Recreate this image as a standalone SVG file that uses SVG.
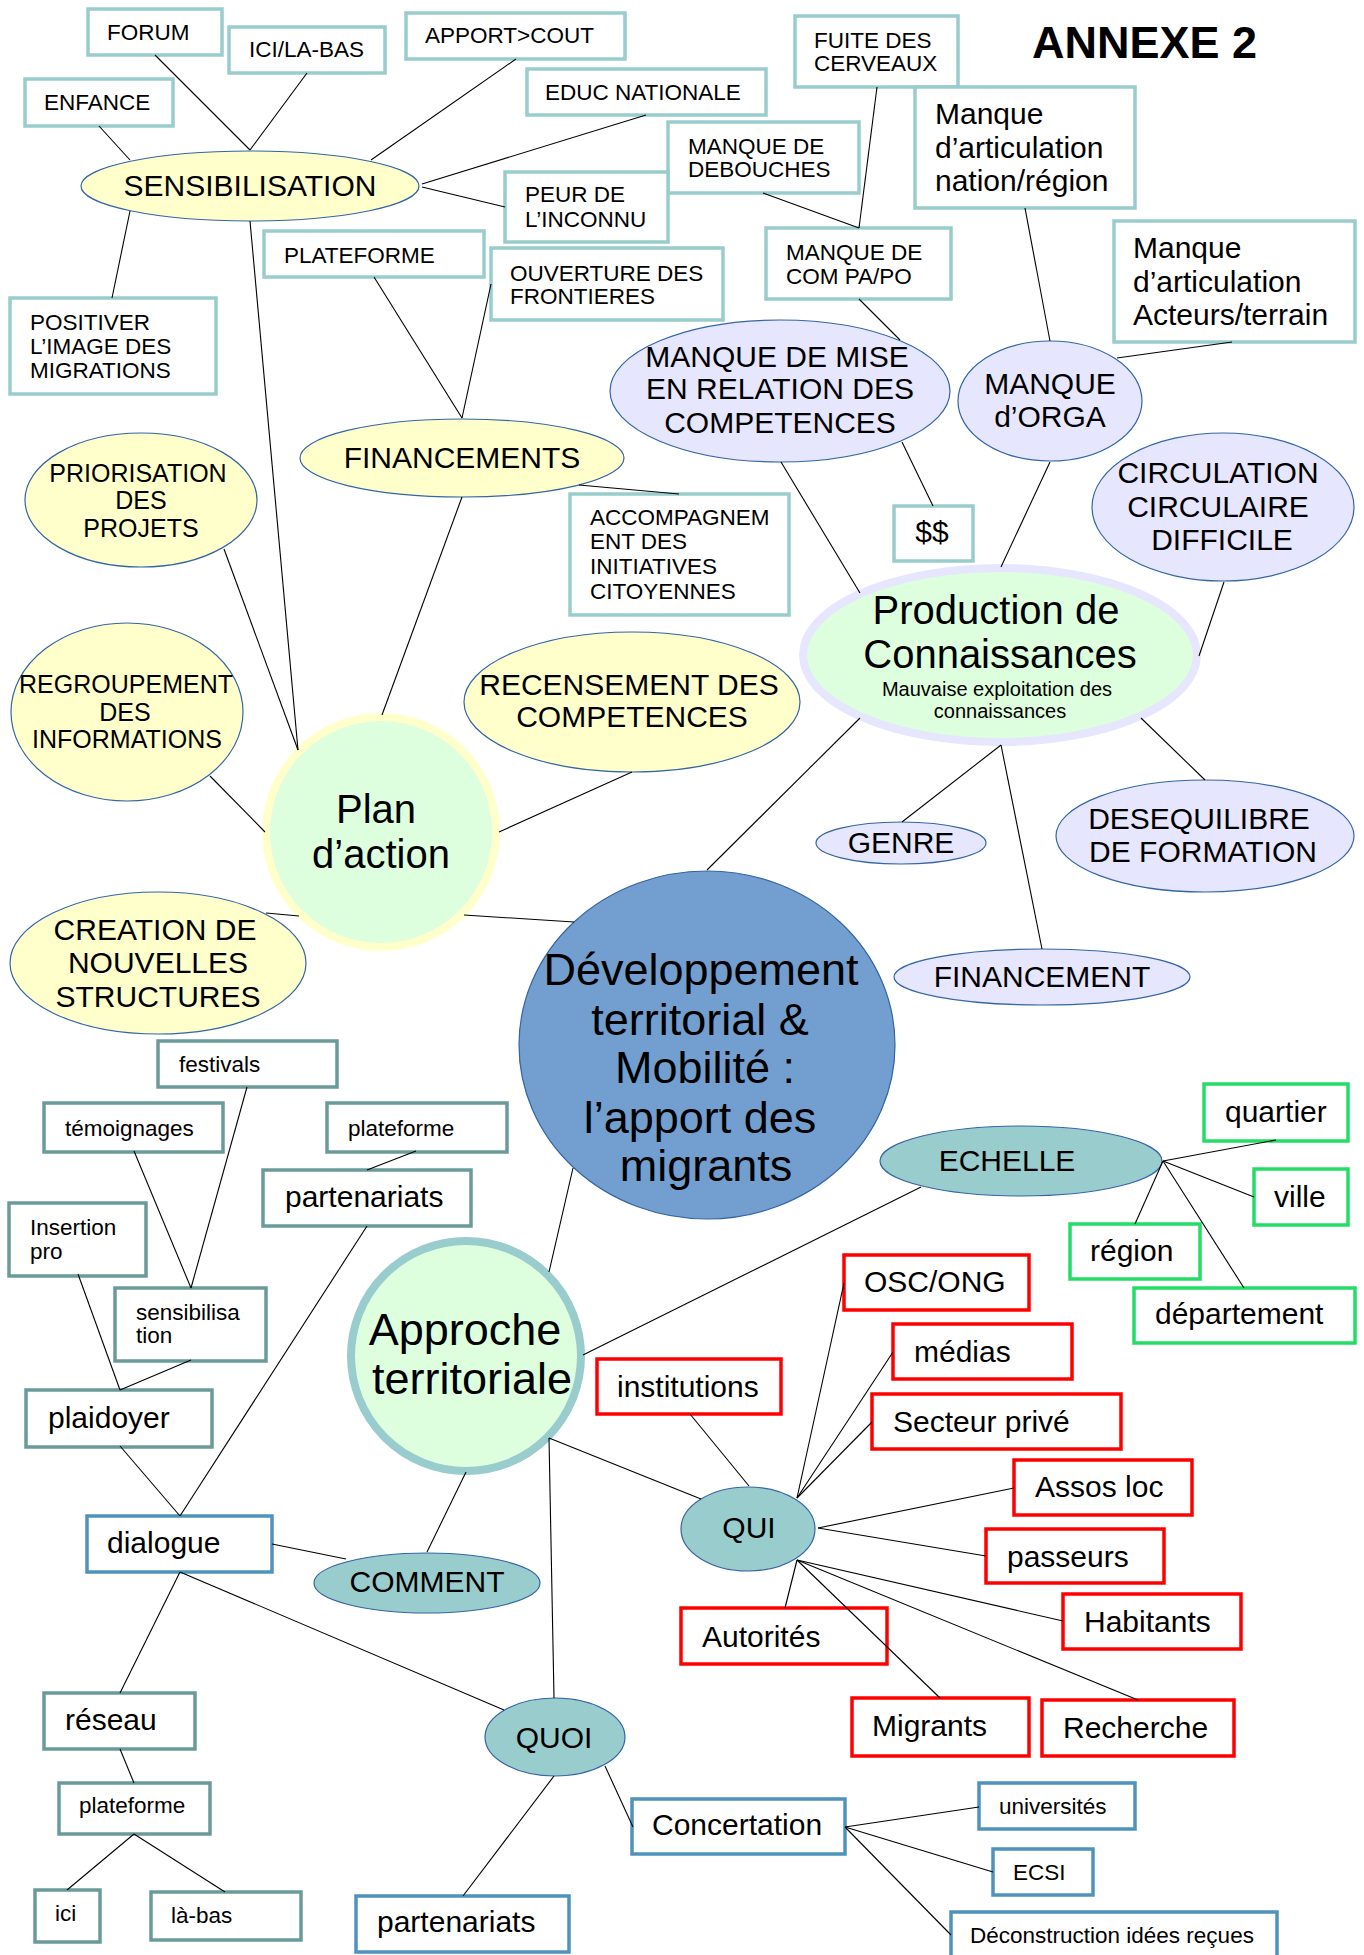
<svg xmlns="http://www.w3.org/2000/svg" width="1364" height="1955" viewBox="0 0 1364 1955">
<style>
text{font-family:"Liberation Sans",Arial,sans-serif;fill:#000}
.t22{font-size:22.5px}.t29{font-size:30px}.t30{font-size:30px}
.m{text-anchor:middle}
.bt{fill:#fff;stroke:#99cccc;stroke-width:3.5}
.bg{fill:#fff;stroke:#6a9a9a;stroke-width:3.5}
.bb{fill:#fff;stroke:#4f93bd;stroke-width:3.5}
.br{fill:#fff;stroke:#ff0000;stroke-width:3.5}
.bn{fill:#fff;stroke:#22dd66;stroke-width:3.5}
.ey{fill:#ffffcc;stroke:#3465a4;stroke-width:1.2}
.el{fill:#e6e6ff;stroke:#3465a4;stroke-width:1.2}
.et{fill:#99cccc;stroke:#3465a4;stroke-width:1.2}
#connectors line{stroke:#000;stroke-width:1.1}
</style>
<rect width="1364" height="1955" fill="#fff"/>

<text x="1032" y="58" style="font-size:45px;font-weight:bold">ANNEXE 2</text>

<g id="forum"><rect class="bt" x="88" y="9" width="134" height="46"/><text class="t22" x="107" y="40">FORUM</text></g>
<g id="icilabas"><rect class="bt" x="229" y="27" width="156" height="46"/><text class="t22" x="249" y="57">ICI/LA-BAS</text></g>
<g id="apport"><rect class="bt" x="406" y="13" width="219" height="46"/><text class="t22" x="425" y="43">APPORT&gt;COUT</text></g>
<g id="enfance"><rect class="bt" x="25" y="79" width="148" height="47"/><text class="t22" x="44" y="110">ENFANCE</text></g>
<g id="educ"><rect class="bt" x="527" y="69" width="239" height="46"/><text class="t22" x="545" y="100">EDUC NATIONALE</text></g>
<g id="debouches"><rect class="bt" x="668" y="122" width="191" height="71"/><text class="t22"><tspan x="688" y="154">MANQUE DE</tspan><tspan x="688" y="177">DEBOUCHES</tspan></text></g>
<g id="peur"><rect class="bt" x="505" y="172" width="163" height="70"/><text class="t22"><tspan x="525" y="202">PEUR DE</tspan><tspan x="525" y="227">L’INCONNU</tspan></text></g>
<g id="fuite"><rect class="bt" x="795" y="16" width="163" height="71"/><text class="t22"><tspan x="814" y="48">FUITE DES</tspan><tspan x="814" y="71">CERVEAUX</tspan></text></g>
<g id="nation"><rect class="bt" x="915" y="87" width="220" height="121"/><text class="t30"><tspan x="935" y="124">Manque</tspan><tspan x="935" y="158">d’articulation</tspan><tspan x="935" y="191">nation/région</tspan></text></g>
<g id="compapo"><rect class="bt" x="766" y="228" width="185" height="71"/><text class="t22"><tspan x="786" y="260">MANQUE DE</tspan><tspan x="786" y="284">COM PA/PO</tspan></text></g>
<g id="acteurs"><rect class="bt" x="1114" y="221" width="241" height="121"/><text class="t30"><tspan x="1133" y="258">Manque</tspan><tspan x="1133" y="292">d’articulation</tspan><tspan x="1133" y="325">Acteurs/terrain</tspan></text></g>
<g id="plateformeTop"><rect class="bt" x="264" y="231" width="220" height="46"/><text class="t22" x="284" y="263">PLATEFORME</text></g>
<g id="ouverture"><rect class="bt" x="491" y="248" width="232" height="72"/><text class="t22"><tspan x="510" y="281">OUVERTURE DES</tspan><tspan x="510" y="304">FRONTIERES</tspan></text></g>
<g id="positiver"><rect class="bt" x="10" y="298" width="206" height="96"/><text class="t22"><tspan x="30" y="330">POSITIVER</tspan><tspan x="30" y="354">L’IMAGE DES</tspan><tspan x="30" y="378">MIGRATIONS</tspan></text></g>
<g id="accompagnement"><rect class="bt" x="570" y="494" width="219" height="121"/><text class="t22"><tspan x="590" y="525">ACCOMPAGNEM</tspan><tspan x="590" y="549">ENT DES</tspan><tspan x="590" y="574">INITIATIVES</tspan><tspan x="590" y="599">CITOYENNES</tspan></text></g>
<g id="dollars"><rect class="bt" x="894" y="506" width="79" height="55"/><text class="t29 m" x="932" y="542">$$</text></g>

<g id="sensibilisation"><ellipse class="ey" cx="250" cy="186" rx="169" ry="35"/><text class="m" style="font-size:30px" x="250" y="196">SENSIBILISATION</text></g>
<g id="financements"><ellipse class="ey" cx="462" cy="458" rx="162" ry="39"/><text class="t29 m" x="462" y="468">FINANCEMENTS</text></g>
<g id="priorisation"><ellipse class="ey" cx="141" cy="500" rx="116" ry="67"/><text class="m" style="font-size:25px"><tspan x="138" y="482">PRIORISATION</tspan><tspan x="141" y="509">DES</tspan><tspan x="141" y="537">PROJETS</tspan></text></g>
<g id="regroupement"><ellipse class="ey" cx="127" cy="712" rx="116" ry="89"/><text class="m" style="font-size:25px"><tspan x="126" y="693">REGROUPEMENT</tspan><tspan x="125" y="721">DES</tspan><tspan x="127" y="748">INFORMATIONS</tspan></text></g>
<g id="recensement"><ellipse class="ey" cx="632" cy="702" rx="168" ry="70"/><text class="t29 m"><tspan x="629" y="695">RECENSEMENT DES</tspan><tspan x="632" y="727">COMPETENCES</tspan></text></g>
<g id="creation"><ellipse class="ey" cx="158" cy="963" rx="148" ry="71"/><text class="t29 m"><tspan x="155" y="940">CREATION DE</tspan><tspan x="158" y="973">NOUVELLES</tspan><tspan x="158" y="1007">STRUCTURES</tspan></text></g>
<g id="plan"><ellipse cx="381" cy="832" rx="115" ry="115" fill="#ddffdd" stroke="#ffffcc" stroke-width="8"/><text class="m" style="font-size:40px"><tspan x="376" y="823">Plan</tspan><tspan x="381" y="868">d’action</tspan></text></g>

<g id="miserelation"><ellipse class="el" cx="780" cy="391" rx="170" ry="71"/><text class="t29 m"><tspan x="777" y="367">MANQUE DE MISE</tspan><tspan x="780" y="399">EN RELATION DES</tspan><tspan x="780" y="433">COMPETENCES</tspan></text></g>
<g id="orga"><ellipse class="el" cx="1050" cy="401" rx="92" ry="60"/><text class="t29 m"><tspan x="1050" y="394">MANQUE</tspan><tspan x="1050" y="427">d’ORGA</tspan></text></g>
<g id="circulation"><ellipse class="el" cx="1223" cy="507" rx="131" ry="74"/><text class="t29 m"><tspan x="1218" y="483">CIRCULATION</tspan><tspan x="1218" y="517">CIRCULAIRE</tspan><tspan x="1222" y="550">DIFFICILE</tspan></text></g>
<g id="production"><ellipse cx="1000" cy="655" rx="197" ry="87" fill="#ddffdd" stroke="#e6e6ff" stroke-width="8"/><text class="m" style="font-size:40px"><tspan x="996" y="624">Production de</tspan><tspan x="1000" y="668">Connaissances</tspan></text><text class="m" style="font-size:20px"><tspan x="997" y="696">Mauvaise exploitation des</tspan><tspan x="1000" y="718">connaissances</tspan></text></g>
<g id="genre"><ellipse class="el" cx="901" cy="843" rx="85" ry="21"/><text class="t29 m" x="901" y="853">GENRE</text></g>
<g id="desequilibre"><ellipse class="el" cx="1205" cy="836" rx="149" ry="56"/><text class="t29 m"><tspan x="1199" y="829">DESEQUILIBRE</tspan><tspan x="1203" y="862">DE FORMATION</tspan></text></g>
<g id="financement"><ellipse class="el" cx="1042" cy="977" rx="148" ry="28"/><text class="t29 m" x="1042" y="987">FINANCEMENT</text></g>

<g id="developpement"><ellipse cx="707" cy="1045" rx="188" ry="174" fill="#729fcf" stroke="#3465a4" stroke-width="1.2"/><text class="m" style="font-size:45px"><tspan x="701" y="985">Développement</tspan><tspan x="700" y="1035">territorial &amp;</tspan><tspan x="705" y="1083">Mobilité :</tspan><tspan x="700" y="1133">l’apport des</tspan><tspan x="706" y="1181">migrants</tspan></text></g>

<g id="echelle"><ellipse class="et" cx="1021" cy="1161" rx="141" ry="35"/><text class="t29 m" x="1007" y="1171">ECHELLE</text></g>
<g id="quartier"><rect class="bn" x="1204" y="1084" width="144" height="57"/><text class="t29" x="1225" y="1122">quartier</text></g>
<g id="ville"><rect class="bn" x="1254" y="1169" width="94" height="56"/><text class="t29" x="1274" y="1207">ville</text></g>
<g id="region"><rect class="bn" x="1070" y="1224" width="130" height="55"/><text class="t29" x="1090" y="1261">région</text></g>
<g id="departement"><rect class="bn" x="1134" y="1288" width="221" height="55"/><text class="t29" x="1155" y="1324">département</text></g>

<g id="oscong"><rect class="br" x="844" y="1255" width="185" height="55"/><text class="t29" x="864" y="1292">OSC/ONG</text></g>
<g id="medias"><rect class="br" x="893" y="1324" width="179" height="55"/><text class="t29" x="914" y="1362">médias</text></g>
<g id="secteur"><rect class="br" x="872" y="1394" width="249" height="55"/><text class="t29" x="893" y="1432">Secteur privé</text></g>
<g id="assos"><rect class="br" x="1014" y="1460" width="178" height="55"/><text class="t29" x="1035" y="1497">Assos loc</text></g>
<g id="passeurs"><rect class="br" x="986" y="1529" width="178" height="54"/><text class="t29" x="1007" y="1567">passeurs</text></g>
<g id="institutions"><rect class="br" x="597" y="1359" width="184" height="55"/><text class="t29" x="617" y="1397">institutions</text></g>
<g id="habitants"><rect class="br" x="1063" y="1594" width="178" height="55"/><text class="t29" x="1084" y="1632">Habitants</text></g>
<g id="autorites"><rect class="br" x="681" y="1608" width="206" height="56"/><text class="t29" x="702" y="1647">Autorités</text></g>
<g id="migrants"><rect class="br" x="852" y="1698" width="177" height="58"/><text class="t29" x="872" y="1736">Migrants</text></g>
<g id="recherche"><rect class="br" x="1042" y="1700" width="192" height="56"/><text class="t29" x="1063" y="1738">Recherche</text></g>
<g id="qui"><ellipse class="et" cx="748" cy="1529" rx="67" ry="42"/><text class="t29 m" x="749" y="1538">QUI</text></g>

<g id="approche"><ellipse cx="466" cy="1356" rx="115" ry="115" fill="#ddffdd" stroke="#99cccc" stroke-width="8"/><text class="m" style="font-size:45px"><tspan x="465" y="1345">Approche</tspan><tspan x="472" y="1394">territoriale</tspan></text></g>
<g id="comment"><ellipse class="et" cx="427" cy="1583" rx="113" ry="30"/><text class="t29 m" x="427" y="1592">COMMENT</text></g>
<g id="quoi"><ellipse class="et" cx="555" cy="1737" rx="70" ry="39"/><text class="t29 m" x="554" y="1748">QUOI</text></g>

<g id="concertation"><rect class="bb" x="632" y="1799" width="213" height="55"/><text class="t29" x="652" y="1835">Concertation</text></g>
<g id="universites"><rect class="bb" x="979" y="1783" width="156" height="46"/><text class="t22" x="999" y="1814">universités</text></g>
<g id="ecsi"><rect class="bb" x="993" y="1849" width="100" height="46"/><text class="t22" x="1013" y="1880">ECSI</text></g>
<g id="deconstruction"><rect class="bb" x="951" y="1912" width="326" height="52"/><text class="t22" x="970" y="1943">Déconstruction idées reçues</text></g>
<g id="partenariatsBas"><rect class="bb" x="356" y="1896" width="213" height="56"/><text class="t29" x="377" y="1932">partenariats</text></g>
<g id="dialogue"><rect class="bb" x="87" y="1516" width="185" height="56"/><text class="t29" x="107" y="1553">dialogue</text></g>

<g id="reseau"><rect class="bg" x="44" y="1693" width="151" height="56"/><text class="t29" x="65" y="1730">réseau</text></g>
<g id="plateformeBas"><rect class="bg" x="59" y="1783" width="151" height="51"/><text class="t22" x="79" y="1813">plateforme</text></g>
<g id="ici"><rect class="bg" x="35" y="1890" width="65" height="52"/><text class="t22" x="55" y="1921">ici</text></g>
<g id="labas"><rect class="bg" x="151" y="1892" width="150" height="48"/><text class="t22" x="171" y="1923">là-bas</text></g>
<g id="partenariatsHaut"><rect class="bg" x="263" y="1170" width="208" height="56"/><text class="t29" x="285" y="1207">partenariats</text></g>
<g id="plaidoyer"><rect class="bg" x="26" y="1390" width="186" height="57"/><text class="t29" x="48" y="1428">plaidoyer</text></g>
<g id="sensibilisationBas"><rect class="bg" x="115" y="1288" width="151" height="73"/><text class="t22"><tspan x="136" y="1320">sensibilisa</tspan><tspan x="136" y="1343">tion</tspan></text></g>
<g id="insertion"><rect class="bg" x="9" y="1203" width="137" height="73"/><text class="t22"><tspan x="30" y="1235">Insertion</tspan><tspan x="30" y="1259">pro</tspan></text></g>
<g id="festivals"><rect class="bg" x="158" y="1041" width="179" height="46"/><text class="t22" x="179" y="1072">festivals</text></g>
<g id="temoignages"><rect class="bg" x="44" y="1103" width="179" height="49"/><text class="t22" x="65" y="1136">témoignages</text></g>
<g id="plateformeHaut"><rect class="bg" x="327" y="1103" width="180" height="49"/><text class="t22" x="348" y="1136">plateforme</text></g>

<g id="connectors">
<line x1="155" y1="55" x2="250" y2="150"/>
<line x1="307" y1="73" x2="250" y2="150"/>
<line x1="99" y1="126" x2="130" y2="160"/>
<line x1="516" y1="59" x2="371" y2="160"/>
<line x1="646" y1="115" x2="422" y2="184"/>
<line x1="505" y1="207" x2="422" y2="187"/>
<line x1="130" y1="211" x2="112" y2="298"/>
<line x1="250" y1="221" x2="298" y2="750"/>
<line x1="374" y1="277" x2="462" y2="418"/>
<line x1="491" y1="284" x2="462" y2="418"/>
<line x1="579" y1="485" x2="679" y2="494"/>
<line x1="462" y1="497" x2="382" y2="715"/>
<line x1="224" y1="549" x2="298" y2="750"/>
<line x1="210" y1="776" x2="265" y2="832"/>
<line x1="266" y1="913" x2="299" y2="916"/>
<line x1="499" y1="832" x2="632" y2="772"/>
<line x1="464" y1="915" x2="574" y2="922"/>
<line x1="877" y1="87" x2="859" y2="228"/>
<line x1="763" y1="193" x2="859" y2="228"/>
<line x1="859" y1="299" x2="900" y2="340"/>
<line x1="1025" y1="208" x2="1050" y2="341"/>
<line x1="1232" y1="342" x2="1117" y2="358"/>
<line x1="902" y1="442" x2="933" y2="506"/>
<line x1="781" y1="462" x2="860" y2="593"/>
<line x1="1050" y1="462" x2="1001" y2="567"/>
<line x1="1224" y1="582" x2="1199" y2="656"/>
<line x1="860" y1="718" x2="707" y2="870"/>
<line x1="1001" y1="745" x2="902" y2="822"/>
<line x1="1001" y1="745" x2="1042" y2="949"/>
<line x1="1141" y1="718" x2="1205" y2="780"/>
<line x1="1163" y1="1161" x2="1276" y2="1140"/>
<line x1="1163" y1="1161" x2="1254" y2="1197"/>
<line x1="1163" y1="1161" x2="1135" y2="1224"/>
<line x1="1163" y1="1161" x2="1244" y2="1288"/>
<line x1="921" y1="1187" x2="583" y2="1355"/>
<line x1="573" y1="1168" x2="549" y2="1272"/>
<line x1="549" y1="1438" x2="701" y2="1499"/>
<line x1="549" y1="1438" x2="554" y2="1698"/>
<line x1="466" y1="1472" x2="427" y2="1552"/>
<line x1="272" y1="1544" x2="346" y2="1559"/>
<line x1="180" y1="1572" x2="504" y2="1710"/>
<line x1="180" y1="1572" x2="120" y2="1693"/>
<line x1="120" y1="1749" x2="134" y2="1783"/>
<line x1="134" y1="1834" x2="67" y2="1890"/>
<line x1="134" y1="1834" x2="225" y2="1892"/>
<line x1="554" y1="1776" x2="463" y2="1896"/>
<line x1="605" y1="1766" x2="633" y2="1827"/>
<line x1="845" y1="1827" x2="979" y2="1807"/>
<line x1="845" y1="1827" x2="993" y2="1872"/>
<line x1="845" y1="1827" x2="951" y2="1935"/>
<line x1="180" y1="1516" x2="120" y2="1446"/>
<line x1="180" y1="1516" x2="367" y2="1226"/>
<line x1="120" y1="1390" x2="78" y2="1274"/>
<line x1="120" y1="1390" x2="191" y2="1360"/>
<line x1="191" y1="1288" x2="134" y2="1151"/>
<line x1="191" y1="1288" x2="247" y2="1087"/>
<line x1="367" y1="1170" x2="416" y2="1151"/>
<line x1="818" y1="1528" x2="1014" y2="1488"/>
<line x1="818" y1="1528" x2="986" y2="1556"/>
<line x1="797" y1="1498" x2="844" y2="1283"/>
<line x1="797" y1="1498" x2="893" y2="1352"/>
<line x1="797" y1="1498" x2="872" y2="1422"/>
<line x1="749" y1="1486" x2="690" y2="1414"/>
<line x1="797" y1="1560" x2="785" y2="1608"/>
<line x1="797" y1="1560" x2="1063" y2="1621"/>
<line x1="797" y1="1560" x2="940" y2="1698"/>
<line x1="797" y1="1560" x2="1138" y2="1700"/>
</g>
</svg>
